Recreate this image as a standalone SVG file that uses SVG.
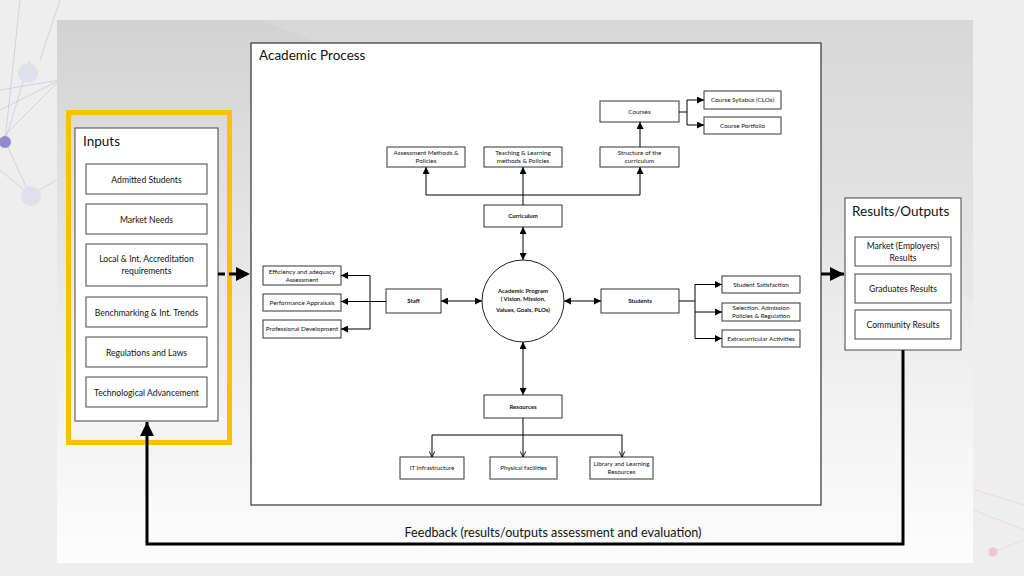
<svg xmlns="http://www.w3.org/2000/svg" width="1024" height="576" viewBox="0 0 1024 576">
<defs>
<linearGradient id="panel" x1="0" y1="0" x2="0" y2="1">
<stop offset="0" stop-color="#d2d2d2"/>
<stop offset="0.55" stop-color="#ececec"/>
<stop offset="1" stop-color="#fdfdfd"/>
</linearGradient>
<marker id="a" viewBox="0 0 10 10" refX="10" refY="5" markerWidth="7" markerHeight="7" markerUnits="userSpaceOnUse" orient="auto">
<path d="M0,0 L10,5 L0,10 z" fill="#000"/>
</marker>
<marker id="v" viewBox="0 0 10 10" refX="9" refY="5" markerWidth="7" markerHeight="7" markerUnits="userSpaceOnUse" orient="auto">
<path d="M1,1 L9,5 L1,9" fill="none" stroke="#000" stroke-width="1.3"/>
</marker>
<marker id="big" viewBox="0 0 10 10" refX="10" refY="5" markerWidth="14" markerHeight="14" markerUnits="userSpaceOnUse" orient="auto">
<path d="M0,0 L10,5 L0,10 z" fill="#000"/>
</marker>
<style>
.t{font-family:Lato,"Open Sans","Liberation Sans",sans-serif;fill:#111;text-anchor:middle}
.s{font-size:6.3px}
.sb{font-size:6px;font-weight:bold}
.m{font-size:8.6px}
.h{font-size:13.5px;text-anchor:start}
.bx{fill:#fff;stroke:#333;stroke-width:1}
.ib{fill:#fff;stroke:#444;stroke-width:1}
.c{fill:none;stroke:#000;stroke-width:1}
.k{fill:none;stroke:#000;stroke-width:3}
.deco{stroke:#c4c4d8;stroke-width:0.7;fill:none}
</style>
</defs>
<rect width="1024" height="576" fill="#eeeeee"/>
<g id="decor">
<path class="deco" d="M0,90 L60,80 M0,110 L60,80 M0,140 L60,80 M5,141 L30,60 M20,0 L5,141 M60,0 L40,60 M5,141 L30,195 M0,170 L30,195 M30,195 L57,180"/>
<circle cx="28" cy="73" r="10" fill="#e0e0ea"/>
<circle cx="31" cy="196" r="10" fill="#e0e0ea"/>
<circle cx="5" cy="142" r="6" fill="#8f8cc8"/>
<path d="M973,510 L1024,530 M975,490 L1024,505 M993,552 L1024,540" stroke="#e8d0d8" stroke-width="0.7" fill="none"/>
<circle cx="993" cy="552" r="4.5" fill="#ecc6d2"/>
</g>
<rect x="57" y="20" width="916" height="543" fill="url(#panel)"/>
<path d="M260,20 L973,20 L973,300 Z" fill="#e2e2e2" opacity="0.35"/>

<g id="academic-process">
<rect x="251" y="43" width="570" height="462" fill="#fff" stroke="#333" stroke-width="1.2"/>
<text class="t h" x="259" y="60">Academic Process</text>
</g>

<g id="inputs">
<rect x="68.5" y="112.5" width="161" height="330" fill="none" stroke="#FFC000" stroke-width="5"/>
<rect x="75" y="128" width="143" height="293" class="ib" stroke-width="1.2"/>
<text class="t h" x="83" y="146">Inputs</text>
</g>
<g id="in-admitted"><rect x="86" y="164" width="121" height="30" class="ib"/><text class="t m" x="146.5" y="182.5">Admitted Students</text></g>
<g id="in-market"><rect x="86" y="204" width="121" height="30" class="ib"/><text class="t m" x="146.5" y="222.5">Market Needs</text></g>
<g id="in-accred"><rect x="86" y="244" width="121" height="42" class="ib"/><text class="t m" x="146.5" y="262">Local &amp; Int. Accreditation</text><text class="t m" x="146.5" y="273.5">requirements</text></g>
<g id="in-bench"><rect x="86" y="297" width="121" height="30" class="ib"/><text class="t m" x="146.5" y="315.5">Benchmarking &amp; Int. Trends</text></g>
<g id="in-regs"><rect x="86" y="337" width="121" height="30" class="ib"/><text class="t m" x="146.5" y="355.5">Regulations and Laws</text></g>
<g id="in-tech"><rect x="86" y="377" width="121" height="30" class="ib"/><text class="t m" x="146.5" y="395.5">Technological Advancement</text></g>

<g id="results">
<rect x="845" y="198" width="116" height="152" class="ib" stroke-width="1.2"/>
<text class="t h" x="852" y="216">Results/Outputs</text>
</g>
<g id="out-market"><rect x="855" y="237" width="96" height="29" class="ib"/><text class="t m" x="903" y="249">Market (Employers)</text><text class="t m" x="903" y="261">Results</text></g>
<g id="out-grad"><rect x="855" y="274" width="96" height="29" class="ib"/><text class="t m" x="903" y="291.5">Graduates Results</text></g>
<g id="out-comm"><rect x="855" y="310" width="96" height="29" class="ib"/><text class="t m" x="903" y="327.5">Community Results</text></g>

<g id="courses"><rect x="600" y="101" width="79" height="21" class="bx"/><text class="t s" x="639.5" y="113.5">Courses</text></g>
<g id="syllabus"><rect x="704" y="91" width="77" height="18" class="bx"/><text class="t s" x="742.5" y="102">Course Syllabus (CLOs)</text></g>
<g id="portfolio"><rect x="704" y="117" width="77" height="17" class="bx"/><text class="t s" x="742.5" y="127.5">Course Portfolio</text></g>
<g id="structure"><rect x="600" y="147" width="79" height="20" class="bx"/><text class="t s" x="639.5" y="155">Structure of the</text><text class="t s" x="639.5" y="163">curriculum</text></g>
<g id="assessment"><rect x="387" y="147" width="78" height="20" class="bx"/><text class="t s" x="426" y="155">Assessment Methods &amp;</text><text class="t s" x="426" y="163">Policies</text></g>
<g id="teaching"><rect x="484" y="147" width="78" height="20" class="bx"/><text class="t s" x="523" y="155">Teaching &amp; Learning</text><text class="t s" x="523" y="163">methods &amp; Policies</text></g>
<g id="curriculum"><rect x="484" y="205" width="78" height="22" class="bx"/><text class="t sb" x="523" y="218">Curriculum</text></g>
<g id="program"><circle cx="523" cy="301" r="41" fill="#fff" stroke="#222" stroke-width="1"/><text class="t sb" x="523" y="293">Academic Program</text><text class="t sb" x="523" y="301">( Vision, Mission,</text><text class="t sb" x="523" y="312">Values, Goals, PLOs)</text></g>
<g id="staff"><rect x="386" y="289" width="55" height="24" class="bx"/><text class="t sb" x="413.5" y="303">Staff</text></g>
<g id="efficiency"><rect x="263" y="266" width="78" height="19" class="bx"/><text class="t s" x="302" y="273.5">Efficiency and adequacy</text><text class="t s" x="302" y="281.5">Assessment</text></g>
<g id="appraisals"><rect x="263" y="294" width="78" height="17" class="bx"/><text class="t s" x="302" y="304.5">Performance Appraisals</text></g>
<g id="profdev"><rect x="263" y="320" width="78" height="18" class="bx"/><text class="t s" x="302" y="331">Professional Development</text></g>
<g id="students"><rect x="601" y="289" width="78" height="24" class="bx"/><text class="t sb" x="640" y="303">Students</text></g>
<g id="satisfaction"><rect x="722" y="276" width="78" height="17" class="bx"/><text class="t s" x="761" y="286.5">Student Satisfaction</text></g>
<g id="selection"><rect x="722" y="303" width="78" height="18" class="bx"/><text class="t s" x="761" y="310">Selection. Admission</text><text class="t s" x="761" y="318">Policies &amp; Regulation</text></g>
<g id="extracurricular"><rect x="722" y="330" width="78" height="17" class="bx"/><text class="t s" x="761" y="340.5">Extracurricular Activities</text></g>
<g id="resources"><rect x="484" y="395" width="78" height="23" class="bx"/><text class="t sb" x="523" y="408.5">Resources</text></g>
<g id="it"><rect x="400" y="457" width="64" height="22" class="bx"/><text class="t s" x="432" y="470">IT Infrastructure</text></g>
<g id="physical"><rect x="490" y="457" width="67" height="22" class="bx"/><text class="t s" x="523.5" y="470">Physical facilities</text></g>
<g id="library"><rect x="590" y="457" width="63" height="22" class="bx"/><text class="t s" x="621.5" y="466">Library and Learning</text><text class="t s" x="621.5" y="474">Resources</text></g>

<g id="connectors">
<path class="c" d="M679,112 H687 V100 H704" marker-end="url(#a)"/>
<path class="c" d="M687,112 V125 H704" marker-end="url(#a)"/>
<path class="c" d="M640,147 V122" marker-end="url(#a)"/>
<path class="c" d="M523,205 V167" marker-end="url(#a)"/>
<path class="c" d="M523,195 H426 V167" marker-end="url(#a)"/>
<path class="c" d="M523,195 H640 V167" marker-end="url(#a)"/>
<path class="c" d="M523,244 V227" marker-end="url(#a)"/>
<path class="c" d="M523,244 V260" marker-end="url(#a)"/>
<path class="c" d="M461,301 H441" marker-end="url(#a)"/>
<path class="c" d="M461,301 H482" marker-end="url(#a)"/>
<path class="c" d="M583,301 H564" marker-end="url(#a)"/>
<path class="c" d="M583,301 H601" marker-end="url(#a)"/>
<path class="c" d="M523,368 V342" marker-end="url(#a)"/>
<path class="c" d="M523,368 V395" marker-end="url(#a)"/>
<path class="c" d="M386,301.5 H370 V275.5 H341" marker-end="url(#a)"/>
<path class="c" d="M370,301.5 H341" marker-end="url(#a)"/>
<path class="c" d="M370,301.5 V329 H341" marker-end="url(#a)"/>
<path class="c" d="M679,301 H695 V284.5 H722" marker-end="url(#a)"/>
<path class="c" d="M695,301 V312 H722" marker-end="url(#a)"/>
<path class="c" d="M695,312 V338.5 H722" marker-end="url(#a)"/>
<path class="c" d="M523,418 V435" />
<path class="c" d="M432,435 H622"/>
<path class="c" d="M432,435 V457" marker-end="url(#v)"/>
<path class="c" d="M523,435 V457" marker-end="url(#v)"/>
<path class="c" d="M622,435 V457" marker-end="url(#v)"/>
<path class="k" d="M218,274 H250" stroke-dasharray="7 4" marker-end="url(#big)"/>
<path class="k" d="M821,274 H844" marker-end="url(#big)"/>
<path class="k" d="M903,350 V544 H147 V422" marker-end="url(#big)"/>
<text class="t" x="553" y="537" font-size="12.6">Feedback (results/outputs assessment and evaluation)</text>
</g>
</svg>
